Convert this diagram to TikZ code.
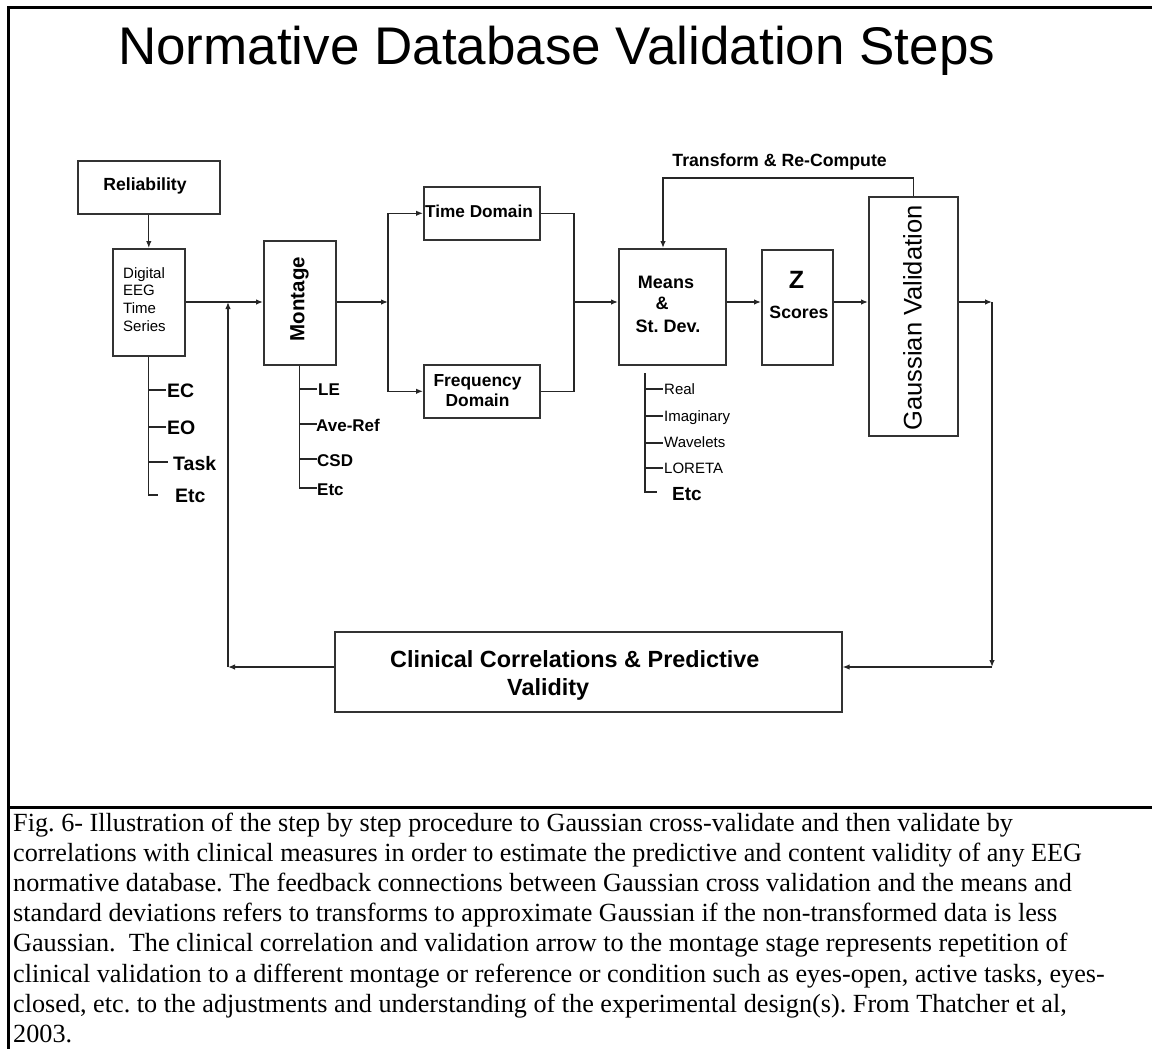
\documentclass[tikz,border=0pt]{standalone}
\usepackage{fontspec}
\setmainfont{Liberation Serif}
\setsansfont{Liberation Sans}
\usetikzlibrary{arrows.meta}
\newcommand\fsz[1]{\fontsize{#1}{#1}\selectfont}
\frenchspacing
\begin{document}
\begin{tikzpicture}[x=1pt,y=-1pt,
  box/.style={draw=black!80, line width=1.6pt, inner sep=0pt, anchor=north west},
  conn/.style={draw=black!85, line width=1.3pt, -{Latex[length=7pt,width=5.5pt]}},
  wire/.style={draw=black!85, line width=1.3pt},
  frame/.style={draw=black, line width=3pt},
  txt/.style={inner sep=0pt, font=\sffamily},
  bt/.style={inner sep=0pt, anchor=base, font=\sffamily\bfseries\fsz{#1}},
  bw/.style={inner sep=0pt, anchor=base west, font=\sffamily\bfseries\fsz{#1}},
  rw/.style={inner sep=0pt, anchor=base west, font=\sffamily\fsz{#1}},
  captxt/.style={inner sep=0pt, anchor=base west, font=\rmfamily\fsz{26.2}},
  ]
\useasboundingbox (0,0) rectangle (1152,1049);
\fill[white] (0,0) rectangle (1152,1049);
% frame
\draw[frame] (1152,8) -- (8,8) -- (8,1049);
\draw[frame] (8,807) -- (1152,807);
% title
\node[rw=53] (title) at (118,65) {Normative Database Validation Steps};
% boxes
\node[box, minimum width=142, minimum height=53] (rel) at (77,160) {};
\node[box, minimum width=72, minimum height=107] (dig) at (112,248) {};
\node[box, minimum width=72, minimum height=124] (mon) at (263,240) {};
\node[box, minimum width=116, minimum height=53] (time) at (423,186) {};
\node[box, minimum width=116, minimum height=53] (freq) at (423,364) {};
\node[box, minimum width=107, minimum height=116] (means) at (618,248) {};
\node[box, minimum width=71, minimum height=115] (zs) at (761,249) {};
\node[box, minimum width=89, minimum height=239] (gauss) at (868,196) {};
\node[box, minimum width=507, minimum height=80] (clin) at (334,631) {};
% box texts
\node[bt=17.6] (relt) at (145,190) {Reliability};
\node[rw=15] (d1) at (123,278) {Digital};
\node[rw=15] (d2) at (123,295) {EEG};
\node[rw=15] (d3) at (123,313) {Time};
\node[rw=15] (d4) at (123,331) {Series};
\node[txt, rotate=90, font=\sffamily\bfseries\fsz{20.5}] (mont) at (299.5,299) {Montage};
\node[bt=17.2] (timet) at (479,217) {Time Domain};
\node[bt=17.4] (freqt1) at (477.5,386) {Frequency};
\node[bt=17.4] (freqt2) at (477.5,406) {Domain};
\node[bt=18] (m1) at (666,288) {Means};
\node[bt=18] (m2) at (662,309) {\&};
\node[bt=18] (m3) at (668,332) {St. Dev.};
\node[bt=25] (z1) at (796.5,288) {Z};
\node[bt=17.7] (z2) at (799,318) {Scores};
\node[txt, rotate=90, font=\sffamily\fsz{25.5}] (gausst) at (912.5,318) {Gaussian Validation};
\node[bw=23.4] (cl1) at (390,667) {Clinical Correlations \& Predictive};
\node[bw=23.4] (cl2) at (507,695) {Validity};
\node[inner sep=0pt, anchor=base east, font=\sffamily\bfseries\fsz{17.7}] (tr) at (887,166) {Transform \& Re-Compute};
% coordinates
\coordinate (sp) at (388,302);
\coordinate (mg) at (574,302);
\coordinate (c1) at (992,302);
\coordinate (c2) at (992,667);
\coordinate (c3) at (228,667);
\coordinate (c4) at (228,302);
\coordinate (fb) at (663,178);
% main connectors
\draw[conn] (rel.south) -- (dig.north);
\draw[conn] (dig.east |- sp) -- (mon.west |- sp);
\draw[conn] (mon.east |- sp) -- (sp);
\draw[wire] (388,213) -- (388,391);
\draw[conn] (sp) |- (time.west);
\draw[conn] (sp) |- (freq.west);
\draw[wire] (time.east) -| (mg);
\draw[wire] (freq.east) -| (mg);
\draw[conn] (mg) -- (means.west |- mg);
\draw[conn] (means.east |- mg) -- (zs.west |- mg);
\draw[conn] (zs.east |- mg) -- (gauss.west |- mg);
\draw[conn] (gauss.east |- mg) -- (c1);
\draw[conn] (c1) -- (c2);
\draw[conn] (c2) -- (clin.east |- c2);
\draw[conn] (clin.west |- c2) -- (c3);
\draw[conn] (c3) -- (c4);
\draw[conn] (gauss.north) |- (fb) -- (fb |- means.north);
% digital sub-list
\draw[wire] (dig.south) |- (158,495);
\draw[wire] (148,390) -- (166,390);
\draw[wire] (148,427) -- (166,427);
\draw[wire] (148,462) -- (168,462);
\node[bw=19.5] (ec) at (167,397) {EC};
\node[bw=19.5] (eo) at (167,434) {EO};
\node[bw=19.5] (task) at (173,470) {Task};
\node[bw=19.5] (etc1) at (175,502) {Etc};
% montage sub-list
\draw[wire] (mon.south) |- (317,488);
\draw[wire] (299,389) -- (317,389);
\draw[wire] (299,424) -- (317,424);
\draw[wire] (299,459) -- (317,459);
\node[bw=17] (le) at (318,395) {LE};
\node[bw=17] (ave) at (316,431) {Ave-Ref};
\node[bw=17] (csd) at (317,466) {CSD};
\node[bw=17] (etc2) at (317,495) {Etc};
% means sub-list
\draw[wire] (645,373) |- (657,492);
\draw[wire] (645,389) -- (663,389);
\draw[wire] (645,416) -- (663,416);
\draw[wire] (645,443) -- (663,443);
\draw[wire] (645,468) -- (663,468);
\node[rw=15] (real) at (664,394) {Real};
\node[rw=15] (imag) at (664,421) {Imaginary};
\node[rw=15] (wave) at (664,447) {Wavelets};
\node[rw=15] (lor) at (664,473) {LORETA};
\node[bw=19] (etc3) at (672,500) {Etc};
% caption
\node[captxt] (cap1) at (13,831) {Fig. 6- Illustration of the step by step procedure to Gaussian cross-validate and then validate by};
\node[captxt] (cap2) at (13,861.2) {correlations with clinical measures in order to estimate the predictive and content validity of any EEG};
\node[captxt] (cap3) at (13,891.4) {normative database. The feedback connections between Gaussian cross validation and the means and};
\node[captxt] (cap4) at (13,921.6) {standard deviations refers to transforms to approximate Gaussian if the non-transformed data is less};
\node[captxt] (cap5) at (13,951.8) {Gaussian.\ \ The clinical correlation and validation arrow to the montage stage represents repetition of};
\node[captxt] (cap6) at (13,982) {clinical validation to a different montage or reference or condition such as eyes-open, active tasks, eyes-};
\node[captxt] (cap7) at (13,1012.2) {closed, etc. to the adjustments and understanding of the experimental design(s). From Thatcher et al,};
\node[captxt] (cap8) at (13,1042.4) {2003.};
\end{tikzpicture}
\end{document}
